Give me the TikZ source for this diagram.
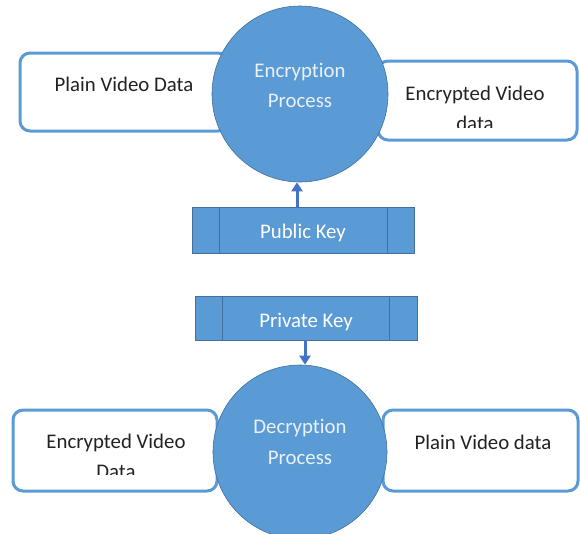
\documentclass[tikz,border=0pt]{standalone}
\usepackage{fontspec}
\setmainfont{Carlito}[Ligatures=NoCommon]
\usetikzlibrary{arrows.meta}
\definecolor{bfill}{HTML}{5B9BD5}
\definecolor{bdark}{HTML}{41719C}
\definecolor{arrowc}{HTML}{4472C4}
\definecolor{txtdark}{HTML}{222222}
\definecolor{txtlight}{HTML}{EAF0F8}
\tikzset{
  databox/.style={draw=bfill, line width=3pt, fill=white, rounded corners=10pt, inner sep=0pt},
  procircle/.style={circle, draw=bdark, line width=0.6pt, fill=bfill, inner sep=0pt},
  keybox/.style={draw=bdark, line width=0.8pt, fill=bfill, inner sep=0pt},
  keyline/.style={draw=bdark, line width=0.8pt},
  dtext/.style={anchor=base, inner sep=0pt, text=txtdark, font=\fontsize{20.8pt}{25pt}\selectfont},
  ltext/.style={anchor=base, inner sep=0pt, text=txtlight, font=\fontsize{20.8pt}{25pt}\selectfont},
  arr/.style={draw=arrowc, line width=3pt, -{Triangle[width=11pt,length=9pt]}}
}
\begin{document}
\begin{tikzpicture}[x=1pt, y=-1pt]
\useasboundingbox (0,0) rectangle (580,533);
\clip (0,0) rectangle (580,533);
% data boxes
\node[databox, minimum width=208pt, minimum height=78pt] (pvd1) at (124,92) {};
\node[databox, minimum width=199pt, minimum height=79pt] (evd1) at (477.5,100.5) {};
\node[databox, minimum width=204pt, minimum height=81pt] (evd2) at (115,450.5) {};
\node[databox, minimum width=195pt, minimum height=81pt] (pvd2) at (480.5,450.5) {};
% texts in data boxes
\node[dtext] (tpvd1) at (124,91) {Plain Video Data};
\node[dtext] (tevd1a) at (475,100) {Encrypted Video};
\begin{scope}
  \clip (378,61) rectangle (577,127);
  \node[dtext] (tevd1b) at (475,130) {data};
\end{scope}
\node[dtext] (tevd2a) at (116,448) {Encrypted Video};
\begin{scope}
  \clip (13,410) rectangle (217,474);
  \node[dtext] (tevd2b) at (116,478) {Data};
\end{scope}
\node[dtext] (tpvd2) at (483,449) {Plain Video data};
% process circles
\node[procircle, minimum size=176pt] (enc) at (300,94) {};
\node[procircle, minimum size=174pt] (dec) at (300,452) {};
\node[ltext] (tenca) at (300,77) {Encryption};
\node[ltext] (tencb) at (300,107) {Process};
\node[ltext] (tdeca) at (300,433) {Decryption};
\node[ltext] (tdecb) at (300,464) {Process};
% key boxes
\node[keybox, minimum width=222pt, minimum height=46pt] (pub) at (303,230) {};
\draw[keyline] ([xshift=28pt]pub.north west) -- ([xshift=28pt]pub.south west);
\draw[keyline] ([xshift=-27pt]pub.north east) -- ([xshift=-27pt]pub.south east);
\node[ltext, text=white] (tpub) at (303,238) {Public Key};
\node[keybox, minimum width=222pt, minimum height=44pt] (pri) at (306,318) {};
\draw[keyline] ([xshift=28pt]pri.north west) -- ([xshift=28pt]pri.south west);
\draw[keyline] ([xshift=-28pt]pri.north east) -- ([xshift=-28pt]pri.south east);
\node[ltext, text=white] (tpri) at (306,327) {Private Key};
% connectors
\draw[arr] ([xshift=-6pt]pub.north) -- ([xshift=-6pt]pub.north |- enc.south);
\draw[arr] ([xshift=-1pt]pri.south) -- ([xshift=-1pt]pri.south |- dec.north);
\end{tikzpicture}
\end{document}
